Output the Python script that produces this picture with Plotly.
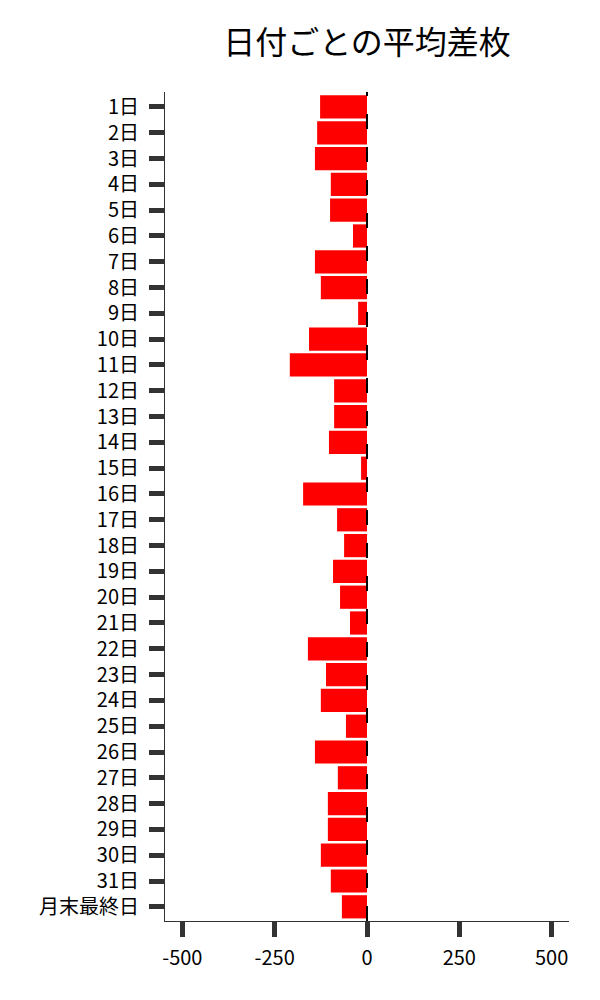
import plotly.graph_objects as go

days = [f"{i}日" for i in range(1, 32)] + ["月末最終日"]
avg_diff = [-127, -135, -141, -98, -100, -38, -141, -125, -24, -157, -209,
            -89, -89, -103, -16, -173, -81, -62, -92, -73, -46, -160, -111,
            -125, -57, -141, -79, -106, -106, -125, -98, -68]
x_ticks = [-500, -250, 0, 250, 500]

FONT = "Noto Sans CJK JP"

fig = go.Figure(go.Bar(
    x=avg_diff, y=days, orientation="h",
    marker=dict(color="#ff0000", line=dict(width=0)),
))

fig.add_shape(type="line", xref="x", yref="paper", x0=0, x1=0, y0=0, y1=1,
              line=dict(color="black", width=2, dash="15px,18px"), layer="above")

fig.update_layout(
    width=600, height=1000,
    margin=dict(l=157, r=39, t=84, b=87),
    paper_bgcolor="white", plot_bgcolor="white",
    font=dict(family=FONT, size=20, color="black"),
    title=dict(text="日付ごとの平均差枚", x=0.5, xref="paper", xanchor="center",
               y=1 - 35 / 1000, yanchor="middle",
               font=dict(family=FONT, size=32, color="black")),
    bargap=0.1,
    showlegend=False,
)
fig.update_xaxes(range=[-547, 547], tickvals=x_ticks, ticktext=[str(v) for v in x_ticks],
                 showgrid=False, zeroline=False, showline=True, linecolor="#333", linewidth=1,
                 ticks="outside", ticklen=15, tickwidth=5, tickcolor="#333",
                 ticklabelstandoff=4,
                 tickfont=dict(family=FONT, size=20, color="black"))
fig.update_yaxes(type="category", categoryorder="array", categoryarray=days,
                 range=[31.55, -0.58],
                 showgrid=False, zeroline=False, showline=True, linecolor="#333", linewidth=1,
                 ticks="outside", ticklen=15, tickwidth=5, tickcolor="#333",
                 ticklabelstandoff=6,
                 tickfont=dict(family=FONT, size=20, color="black"))

fig.write_html("out.html")
